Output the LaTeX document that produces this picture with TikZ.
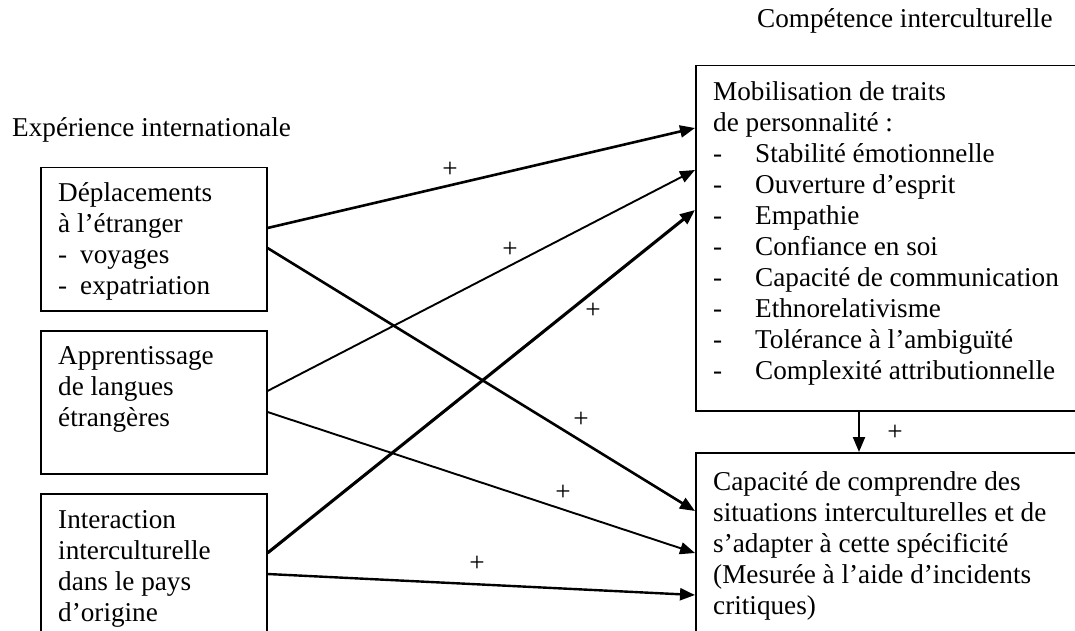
\documentclass[tikz,border=0pt]{standalone}
\usepackage{fontspec}
\setmainfont{Liberation Serif}
\usetikzlibrary{arrows.meta}
\begin{document}
\begin{tikzpicture}[x=1pt,y=-1pt,
  txt/.style={inner sep=0pt, anchor=base west, align=left, font=\fontsize{27.2}{31}\selectfont},
  box/.style={draw, line width=1.5pt, anchor=north west, inner sep=0pt},
  plus/.style={inner sep=0pt, font=\fontsize{27.2}{31}\selectfont},
  conn/.style={line width=#1, -{Triangle[length=15pt,width=12pt]}},
  conn/.default=2pt]
\clip (0,0) rectangle (1075,631);
\fill[white] (0,0) rectangle (1075,631);
% boxes
\node[box, minimum width=226pt, minimum height=143pt] (b1) at (40,167) {};
\node[box, minimum width=226pt, minimum height=143pt] (b2) at (40,330) {};
\node[box, minimum width=226pt, minimum height=170pt] (b3) at (40,493) {};
\node[box, minimum width=420pt, minimum height=345pt] (m) at (695,65) {};
\node[box, minimum width=420pt, minimum height=200pt] (c) at (695,452) {};
% titles (anchor = baseline of last line)
\node[txt] (t1) at (12,137) {Expérience internationale};
\node[txt] (t2) at (757,28) {Compétence interculturelle};
% box texts
\node[txt] (tb1) at (58,294) {Déplacements\\à l’étranger\\-\hspace{13pt}voyages\\-\hspace{13pt}expatriation};
\node[txt] (tb2) at (58,426) {Apprentissage\\de langues\\étrangères};
\node[txt] (tb3) at (58,621) {Interaction\\interculturelle\\dans le pays\\d’origine};
\node[txt] (tm) at (713,379) {Mobilisation de traits\\de personnalité :\\
\makebox[42pt][l]{-}Stabilité émotionnelle\\
\makebox[42pt][l]{-}Ouverture d’esprit\\
\makebox[42pt][l]{-}Empathie\\
\makebox[42pt][l]{-}Confiance en soi\\
\makebox[42pt][l]{-}Capacité de communication\\
\makebox[42pt][l]{-}Ethnorelativisme\\
\makebox[42pt][l]{-}Tolérance à l’ambiguïté\\
\makebox[42pt][l]{-}Complexité attributionnelle};
\node[txt] (tc) at (713,614) {Capacité de comprendre des\\situations interculturelles et de\\s’adapter à cette spécificité\\(Mesurée à l’aide d’incidents\\critiques)};
% connectors
\draw[conn=2.6pt] (b1.east |- 0,228) -- (m.west |- 0,128);
\draw[conn=2.6pt] (b1.east |- 0,248) -- (c.west |- 0,511);
\draw[conn=1.9pt] (b2.east |- 0,391) -- (m.west |- 0,170);
\draw[conn=1.9pt] (b2.east |- 0,412) -- (c.west |- 0,553);
\draw[conn=3.1pt] (b3.east |- 0,553) -- (m.west |- 0,210);
\draw[conn=2.4pt] (b3.east |- 0,574) -- (c.west |- 0,595);
\draw[conn=2.2pt] (m.south -| 859,0) -- (c.north -| 859,0);
% plus labels
\node[plus] (p1) at (450,170) {+};
\node[plus] (p2) at (510,250) {+};
\node[plus] (p3) at (593,311) {+};
\node[plus] (p4) at (581,420) {+};
\node[plus] (p5) at (563,493) {+};
\node[plus] (p6) at (477,564) {+};
\node[plus] (p7) at (895,433) {+};
\end{tikzpicture}
\end{document}
